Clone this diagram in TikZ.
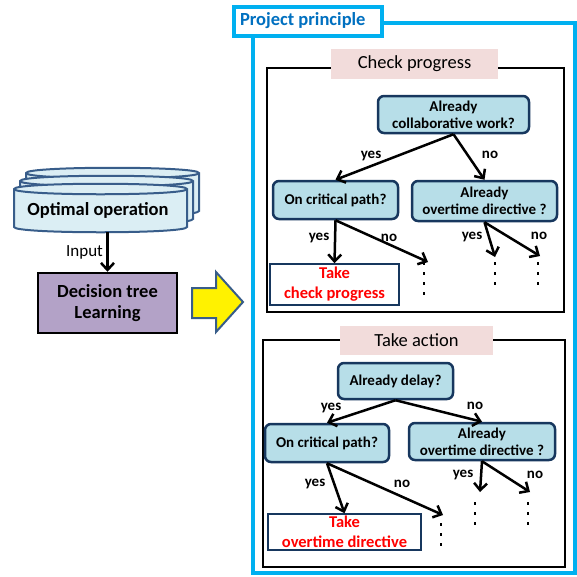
\documentclass[tikz,border=0pt]{standalone}
\usepackage{fontspec}
\setmainfont{Carlito}
\usetikzlibrary{arrows.meta}

\definecolor{qfill}{RGB}{183,222,232}
\definecolor{qline}{RGB}{23,55,94}
\definecolor{frameblue}{RGB}{0,176,240}
\definecolor{titleblue}{RGB}{0,112,192}
\definecolor{tagpink}{RGB}{242,220,219}
\definecolor{learnpurple}{RGB}{179,162,199}
\definecolor{cylfill}{RGB}{219,238,244}
\definecolor{cylline}{RGB}{56,93,138}

\begin{document}
\begin{tikzpicture}[x=1pt, y=-1pt,
  question/.style={draw=qline, fill=qfill, line width=2.5pt, rounded corners=6pt,
    align=center, inner sep=0pt, font=\fontsize{15}{17}\selectfont\bfseries},
  result/.style={draw=qline, fill=white, line width=1.5pt, text=red,
    align=center, inner sep=0pt, font=\fontsize{16.5}{20}\selectfont\bfseries},
  branch/.style={line width=2.5pt, -{Straight Barb[length=7pt, width=13pt]}},
  answer/.style={font=\fontsize{15}{17}\selectfont\bfseries},
  tag/.style={fill=tagpink, inner sep=0pt, font=\fontsize{18.5}{21}\selectfont},
  panel/.style={draw, line width=2.5pt},
  more/.style={line width=2.5pt, dash pattern=on 2.5pt off 7.5pt},
  cyl/.style={draw=cylline, fill=cylfill, line width=2pt}]
  \useasboundingbox (0,0) rectangle (577,576);

  % input side
  \foreach \dx/\top in {12/173, 6/181, 0/189} {
    \filldraw[cyl] (14+\dx,\top) -- (14+\dx,\top+38)
      .. controls (14+\dx,\top+45) and (187+\dx,\top+45) .. (187+\dx,\top+38)
      -- (187+\dx,\top)
      .. controls (187+\dx,\top-7) and (14+\dx,\top-7) .. (14+\dx,\top) -- cycle;
    \draw[cyl] (14+\dx,\top) .. controls (14+\dx,\top+7) and (187+\dx,\top+7) .. (187+\dx,\top);
  }
  \node[font=\fontsize{18.5}{21}\selectfont\bfseries, minimum height=44pt, inner sep=0pt]
    (opt) at (98,210) {Optimal operation};
  \node[draw, line width=2.5pt, fill=learnpurple, minimum width=139pt, minimum height=60pt,
    align=center, inner sep=0pt, font=\fontsize{18.5}{21}\selectfont\bfseries] (learn)
    at (107.5,303) {Decision tree\\Learning};
  \draw[branch] (learn.north |- opt.south) -- (learn.north)
    node[midway, left, font=\fontsize{17}{20}\selectfont] (input) {Input};
  \filldraw[fill=yellow, draw=cylline, line width=2pt] (192,288) -- (216,288) -- (216,272)
    -- (243,302) -- (216,332) -- (216,318) -- (192,318) -- cycle;

  % project principle frame
  \draw[frameblue, line width=4pt] (253,23) rectangle (575,573);
  \node[draw=frameblue, fill=white, line width=4pt, minimum width=148pt, minimum height=29pt,
    inner sep=0pt, text=titleblue, font=\fontsize{18.5}{21}\selectfont\bfseries]
    (principle) at (308,21) {\makebox[136pt][l]{Project principle}};

  % check progress
  \draw[panel] (267,68) rectangle (564,312);
  \node[tag, minimum width=167pt, minimum height=30pt] (check) at (414.5,64) {Check progress};
  \node[question, minimum width=151pt, minimum height=37pt] (cp0) at (453.5,114.5)
    {Already\\collaborative work?};
  \node[question, minimum width=125pt, minimum height=38pt] (cp1) at (335.5,200)
    {On critical path?};
  \node[question, minimum width=145pt, minimum height=40pt] (cp2) at (484.5,201)
    {Already\\overtime directive ?};
  \node[result, minimum width=129pt, minimum height=41pt] (cp3) at (334.5,284.5)
    {Take\\check progress};
  \coordinate (cp1no) at (428,262);
  \coordinate (cp2yes) at (495,257);
  \coordinate (cp2no) at (540,256);
  \draw[branch] (cp0.south) -- (cp1.north);
  \draw[branch] (cp0.south) -- (cp2.north);
  \draw[branch] (cp1.south) -- (cp3.north);
  \draw[branch] (cp1.south) -- (cp1no);
  \draw[branch] (cp2.south) -- (cp2yes);
  \draw[branch] (cp2.south) -- (cp2no);
  \node[answer] (cpyes0) at (371,156) {yes};
  \node[answer] (cpno0) at (490,155) {no};
  \node[answer] (cpyes1) at (319,238) {yes};
  \node[answer] (cpno1) at (389,238) {no};
  \node[answer] (cpyes2) at (472,237) {yes};
  \node[answer] (cpno2) at (539,236) {no};
  \draw[more] (424,262) -- (424,296);
  \draw[more] (495,262) -- (495,286);
  \draw[more] (538,262) -- (538,286);

  % take action
  \draw[panel] (263,340) rectangle (565,567);
  \node[tag, minimum width=153pt, minimum height=29pt] (action) at (416.5,340.5) {Take action};
  \node[question, minimum width=115pt, minimum height=36pt] (ta0) at (395.5,381)
    {Already delay?};
  \node[question, minimum width=124pt, minimum height=38pt] (ta1) at (327,443)
    {On critical path?};
  \node[question, minimum width=146pt, minimum height=37pt] (ta2) at (482,441.5)
    {Already\\overtime directive ?};
  \node[result, minimum width=153pt, minimum height=36pt] (ta3) at (344.5,532)
    {Take\\overtime directive};
  \coordinate (ta1no) at (443,515);
  \coordinate (ta2yes) at (480,492);
  \coordinate (ta2no) at (530,492);
  \draw[branch] (ta0.south) -- (ta1.north);
  \draw[branch] (ta0.south) -- (ta2.north);
  \draw[branch] (ta1.south) -- (ta3.north);
  \draw[branch] (ta1.south) -- (ta1no);
  \draw[branch] (ta2.south) -- (ta2yes);
  \draw[branch] (ta2.south) -- (ta2no);
  \node[answer] (tayes0) at (331,408) {yes};
  \node[answer] (tano0) at (475,406) {no};
  \node[answer] (tayes1) at (315,484) {yes};
  \node[answer] (tano1) at (402,484) {no};
  \node[answer] (tayes2) at (463,475) {yes};
  \node[answer] (tano2) at (535,475) {no};
  \draw[more] (441,523) -- (441,547);
  \draw[more] (475,502) -- (475,526);
  \draw[more] (528,502) -- (528,526);
\end{tikzpicture}
\end{document}
